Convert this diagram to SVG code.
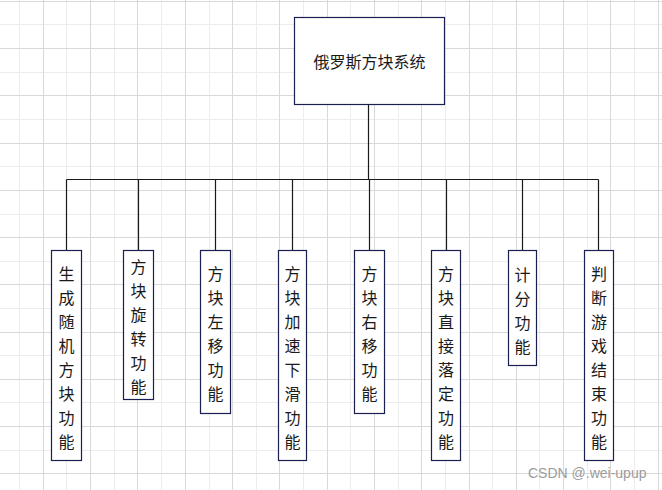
<svg xmlns="http://www.w3.org/2000/svg" width="662" height="490" viewBox="0 0 662 490">
<style>
.minor{stroke:#ececec;stroke-width:1;fill:none}
.major{stroke:#d9d9d9;stroke-width:1;fill:none}
.box{fill:#ffffff;stroke:#1b1f4f;stroke-width:1.2}
.lbl{font-family:"Noto Sans CJK SC","Microsoft YaHei",sans-serif;font-size:16px;fill:#1a1a1a;text-anchor:middle}
.conn{stroke:#1a1a1a;stroke-width:1.2;fill:none}
.wm{font-family:"Liberation Sans",Arial,sans-serif;font-size:14px;fill:#9c9c9c}
</style>
<rect x="0" y="0" width="662" height="490" fill="#ffffff"/>
<g id="grid">
<path class="minor" d="M19.5 0V490M66.5 0V490M114.5 0V490M161.5 0V490M209.5 0V490M256.5 0V490M303.5 0V490M350.5 0V490M398.5 0V490M445.5 0V490M492.5 0V490M539.5 0V490M587.5 0V490M634.5 0V490M0 24.5H662M0 72.5H662M0 119.5H662M0 166.5H662M0 214.5H662M0 261.5H662M0 308.5H662M0 355.5H662M0 402.5H662M0 450.5H662"/>
<path class="major" d="M43.5 0V490M90.5 0V490M137.5 0V490M185.5 0V490M232.5 0V490M279.5 0V490M327.5 0V490M374.5 0V490M421.5 0V490M469.5 0V490M516.5 0V490M563.5 0V490M610.5 0V490M658.5 0V490M0 1.5H662M0 48.5H662M0 95.5H662M0 143.5H662M0 190.5H662M0 237.5H662M0 284.5H662M0 332.5H662M0 379.5H662M0 426.5H662M0 473.5H662"/>
</g>
<g id="connectors">
<path class="conn" d="M368.5 104V179.5M66.5 179.5H598.5M66.5 179.5V250.5M138.5 179.5V250.5M215.5 179.5V250.5M292.5 179.5V250.5M369.5 179.5V250.5M446.5 179.5V250.5M522.5 179.5V250.5M598.5 179.5V250.5"/>
</g>
<g id="root">
<rect class="box" x="294.5" y="17.5" width="150" height="87"/>
<text class="lbl" x="369.5" y="67.5">俄罗斯方块系统</text>
</g>
<g id="n1">
<rect class="box" x="51.5" y="250.5" width="30" height="210"/>
<text class="lbl" y="279.5"><tspan x="66.5">生</tspan><tspan x="66.5" dy="24">成</tspan><tspan x="66.5" dy="24">随</tspan><tspan x="66.5" dy="24">机</tspan><tspan x="66.5" dy="24">方</tspan><tspan x="66.5" dy="24">块</tspan><tspan x="66.5" dy="24">功</tspan><tspan x="66.5" dy="24">能</tspan></text>
</g>
<g id="n2">
<rect class="box" x="123.5" y="250.5" width="30" height="149"/>
<text class="lbl" y="272.7"><tspan x="138.5">方</tspan><tspan x="138.5" dy="24">块</tspan><tspan x="138.5" dy="24">旋</tspan><tspan x="138.5" dy="24">转</tspan><tspan x="138.5" dy="24">功</tspan><tspan x="138.5" dy="24">能</tspan></text>
</g>
<g id="n3">
<rect class="box" x="200.5" y="250.5" width="30" height="163"/>
<text class="lbl" y="279.5"><tspan x="215.5">方</tspan><tspan x="215.5" dy="24">块</tspan><tspan x="215.5" dy="24">左</tspan><tspan x="215.5" dy="24">移</tspan><tspan x="215.5" dy="24">功</tspan><tspan x="215.5" dy="24">能</tspan></text>
</g>
<g id="n4">
<rect class="box" x="278.5" y="250.5" width="28" height="210"/>
<text class="lbl" y="279.5"><tspan x="292.5">方</tspan><tspan x="292.5" dy="24">块</tspan><tspan x="292.5" dy="24">加</tspan><tspan x="292.5" dy="24">速</tspan><tspan x="292.5" dy="24">下</tspan><tspan x="292.5" dy="24">滑</tspan><tspan x="292.5" dy="24">功</tspan><tspan x="292.5" dy="24">能</tspan></text>
</g>
<g id="n5">
<rect class="box" x="354.5" y="250.5" width="30" height="163"/>
<text class="lbl" y="279.5"><tspan x="369.5">方</tspan><tspan x="369.5" dy="24">块</tspan><tspan x="369.5" dy="24">右</tspan><tspan x="369.5" dy="24">移</tspan><tspan x="369.5" dy="24">功</tspan><tspan x="369.5" dy="24">能</tspan></text>
</g>
<g id="n6">
<rect class="box" x="431.5" y="250.5" width="29" height="210"/>
<text class="lbl" y="279.5"><tspan x="446">方</tspan><tspan x="446" dy="24">块</tspan><tspan x="446" dy="24">直</tspan><tspan x="446" dy="24">接</tspan><tspan x="446" dy="24">落</tspan><tspan x="446" dy="24">定</tspan><tspan x="446" dy="24">功</tspan><tspan x="446" dy="24">能</tspan></text>
</g>
<g id="n7">
<rect class="box" x="508.5" y="250.5" width="28" height="115"/>
<text class="lbl" y="281"><tspan x="522.5">计</tspan><tspan x="522.5" dy="24">分</tspan><tspan x="522.5" dy="24">功</tspan><tspan x="522.5" dy="24">能</tspan></text>
</g>
<g id="n8">
<rect class="box" x="584.5" y="250.5" width="29" height="210"/>
<text class="lbl" y="279.5"><tspan x="599">判</tspan><tspan x="599" dy="24">断</tspan><tspan x="599" dy="24">游</tspan><tspan x="599" dy="24">戏</tspan><tspan x="599" dy="24">结</tspan><tspan x="599" dy="24">束</tspan><tspan x="599" dy="24">功</tspan><tspan x="599" dy="24">能</tspan></text>
</g>
<text class="wm" x="528" y="478">CSDN @.wei-upup</text>
</svg>
